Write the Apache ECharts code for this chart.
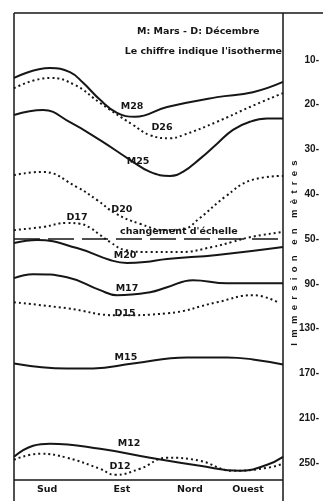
<!DOCTYPE html>
<html>
<head>
<meta charset="utf-8">
<script src="https://cdn.jsdelivr.net/npm/echarts@6/dist/echarts.min.js"></script>
<style>html,body{margin:0;padding:0;background:#fff}#c{width:323px;height:501px}</style>
</head>
<body>
<div id="c"></div>
<script>
// ---- data (x: position along the coast 0..100, depth in metres) ----
const xLabels = ['Sud', 'Est', 'Nord', 'Ouest'];
const xLabelPos = [12.3, 40.1, 65.4, 87.0];
const yTickDepths = [10, 20, 30, 40, 50, 90, 130, 170, 210, 250];

const M28_x = [0, 13.4, 20.8, 25.7, 32.0, 38.3, 45.0, 56.9, 75.5, 88.8, 100];
const M28_d = [14.0, 11.8, 12.7, 15.1, 18.9, 21.8, 22.7, 20.5, 18.3, 17.2, 14.9];

const D26_x = [0, 13.4, 22.7, 32.0, 44.2, 50.6, 58.0, 62.8, 75.5, 87.7, 100];
const D26_d = [16.3, 14.0, 15.6, 19.6, 24.5, 26.8, 27.5, 26.8, 23.8, 20.5, 17.4];

const M25_x = [0, 10.8, 20.8, 32.0, 43.1, 50.6, 58.0, 62.8, 69.1, 75.5, 81.4, 87.7, 94.1, 100];
const M25_d = [22.3, 21.2, 23.9, 27.9, 32.3, 35.0, 35.9, 35.0, 32.1, 28.7, 25.6, 23.8, 23.1, 23.1];

const D20_x = [0, 10.4, 23.4, 30.9, 37.5, 46.8, 56.1, 62.8, 69.1, 78.4, 88.5, 100];
const D20_d = [35.7, 35.0, 38.4, 41.3, 44.2, 46.6, 48.0, 47.8, 45.3, 40.6, 36.8, 35.9];

const D17_x = [0, 10.8, 19.7, 24.5, 28.3, 32.0, 35.7, 41.3, 50.6, 61.7, 73.6, 81.0, 87.7, 100];
const D17_d = [48.0, 47.3, 46.4, 46.6, 47.5, 49.1, 52.7, 59.9, 61.7, 61.7, 57.2, 52.7, 49.6, 48.4];

const M20_x = [0, 8.6, 23.4, 35.7, 42.0, 48.7, 56.9, 75.5, 100];
const M20_d = [53.6, 50.9, 58.1, 68.8, 71.5, 70.6, 67.9, 64.3, 57.2];

const M17_x = [0, 7.1, 19.7, 32.0, 38.3, 50.6, 56.9, 66.5, 79.2, 100];
const M17_d = [85.0, 81.4, 84.1, 95.7, 100.2, 97.5, 93.1, 86.8, 89.5, 89.5];

const D15_x = [0, 19.7, 38.3, 56.9, 75.5, 88.8, 98.1];
const D15_d = [106.5, 111.9, 118.2, 116.4, 106.5, 100.2, 106.5];

const M15_x = [0, 19.7, 29.4, 44.2, 64.3, 79.2, 88.8, 100];
const M15_d = [161.2, 165.7, 165.7, 161.2, 155.8, 155.8, 157.6, 162.1];

const M12_x = [0, 7.1, 13.4, 32.0, 50.6, 69.1, 84.0, 94.1, 100];
const M12_d = [244.7, 234.8, 233.0, 237.5, 245.5, 252.7, 257.2, 251.8, 244.7];

const D12_x = [0, 9.7, 19.7, 32.0, 37.5, 46.8, 56.9, 69.1, 81.4, 94.1, 100];
const D12_d = [247.3, 241.9, 245.5, 255.4, 260.8, 255.4, 245.5, 248.2, 257.2, 254.5, 250.9];

const scaleChangeDepth = 50;

// curve label anchors [text, x, depth]
const curveLabels = [
  ['M28', 43.9, 20.5], ['D26', 55.0, 25.2], ['M25', 46.1, 32.8],
  ['D20', 40.1, 43.5], ['D17', 23.4, 45.1], ['M20', 41.3, 64.4],
  ['M17', 42.0, 94.0], ['D15', 41.3, 116.4], ['M15', 41.6, 155.8],
  ['M12', 42.8, 233.0], ['D12', 39.4, 253.6]
];

// ---- broken depth scale: 10 m per step above 50 m, 40 m per step below ----
function toAxis(d) { return d <= 50 ? d : 50 + (d - 50) / 4; }
function fromAxis(v) { return v <= 50 ? v : 50 + (v - 50) * 4; }

const INK = '#161616';
const FONT = 'DejaVu Sans';

function pts(xs, ds) { return xs.map((x, i) => [x, toAxis(ds[i])]); }

function solid(name, xs, ds) {
  return { name, type: 'line', data: pts(xs, ds), smooth: 0.45, symbol: 'none',
    lineStyle: { color: INK, width: 2 }, silent: true, z: 3 };
}
function dotted(name, xs, ds) {
  return { name, type: 'line', data: pts(xs, ds), smooth: 0.45, symbol: 'none',
    lineStyle: { color: INK, width: 2, type: [2, 3] }, silent: true, z: 3 };
}

const series = [
  solid('M28', M28_x, M28_d),
  dotted('D26', D26_x, D26_d),
  solid('M25', M25_x, M25_d),
  dotted('D20', D20_x, D20_d),
  dotted('D17', D17_x, D17_d),
  solid('M20', M20_x, M20_d),
  solid('M17', M17_x, M17_d),
  dotted('D15', D15_x, D15_d),
  solid('M15', M15_x, M15_d),
  solid('M12', M12_x, M12_d),
  dotted('D12', D12_x, D12_d),
  { name: 'echelle', type: 'line', symbol: 'none', silent: true,
    data: [[0, toAxis(scaleChangeDepth)], [100, toAxis(scaleChangeDepth)]],
    lineStyle: { color: INK, width: 1.5, type: [26, 8] }, z: 2 },
  { name: 'labels', type: 'scatter', symbolSize: 1, silent: true,
    itemStyle: { color: 'rgba(0,0,0,0)', opacity: 1 },
    data: curveLabels.map(l => ({ name: l[0], value: [l[1], toAxis(l[2])] })),
    label: { show: true, position: 'inside', formatter: '{b}', color: INK,
      fontFamily: FONT, fontWeight: 'bold', fontSize: 9.5, opacity: 1,
      textBorderWidth: 0 }, z: 5 }
];

const chart = echarts.init(document.getElementById('c'), null, { renderer: 'canvas' });
chart.setOption({
  animation: false,
  backgroundColor: '#ffffff',
  grid: { left: 14, right: 40, top: 13, bottom: 21, containLabel: false },
  xAxis: {
    type: 'value', min: 0, max: 100,
    axisLine: { show: false },
    axisTick: { show: false },
    splitLine: { show: false },
    axisLabel: {
      customValues: xLabelPos,
      formatter: v => { const i = xLabelPos.findIndex(p => Math.abs(p - v) < 0.01); return i >= 0 ? xLabels[i] : ''; },
      color: INK, fontFamily: FONT, fontWeight: 'bold', fontSize: 9.5, margin: 5
    }
  },
  yAxis: {
    type: 'value', position: 'right', inverse: true,
    min: -0.5, max: 103.85,
    axisLine: { show: false },
    axisTick: { show: false },
    splitLine: { show: false },
    axisLabel: {
      customValues: yTickDepths.map(toAxis),
      formatter: v => Math.round(fromAxis(v)) + '-',
      align: 'right', margin: 36,
      color: INK, fontFamily: 'Liberation Sans', fontWeight: 'bold', fontSize: 10
    }
  },
  graphic: [
    { type: 'line', shape: { x1: 14, y1: 13, x2: 323, y2: 13 }, style: { stroke: INK, lineWidth: 1.5 } },
    { type: 'line', shape: { x1: 14, y1: 13, x2: 14, y2: 501 }, style: { stroke: INK, lineWidth: 1.5 } },
    { type: 'line', shape: { x1: 283, y1: 13, x2: 283, y2: 501 }, style: { stroke: INK, lineWidth: 1.5 } },
    { type: 'line', shape: { x1: 14, y1: 480, x2: 283, y2: 480 }, style: { stroke: INK, lineWidth: 1.5 } },
    { type: 'text', left: 137, top: 27, style: { text: 'M: Mars - D: Décembre', fill: INK,
      font: 'bold 9.5px "DejaVu Sans"' } },
    { type: 'text', right: 41, top: 47, style: { text: 'Le chiffre indique l\'isotherme', fill: INK,
      font: 'bold 9.5px "DejaVu Sans"' } },
    { type: 'text', left: 120, top: 227, style: { text: 'changement d\'échelle', fill: INK,
      font: 'bold 9.5px "DejaVu Sans"' } },
    { type: 'text', x: 294, y: 253, rotation: Math.PI / 2,
      style: { text: 'I  m  m  e  r  s  i  o  n    e  n    m  è  t  r  e  s', fill: INK,
        align: 'center', verticalAlign: 'middle', font: 'bold 9.5px "Liberation Sans"' } }
  ],
  series
});
</script>
</body>
</html>
